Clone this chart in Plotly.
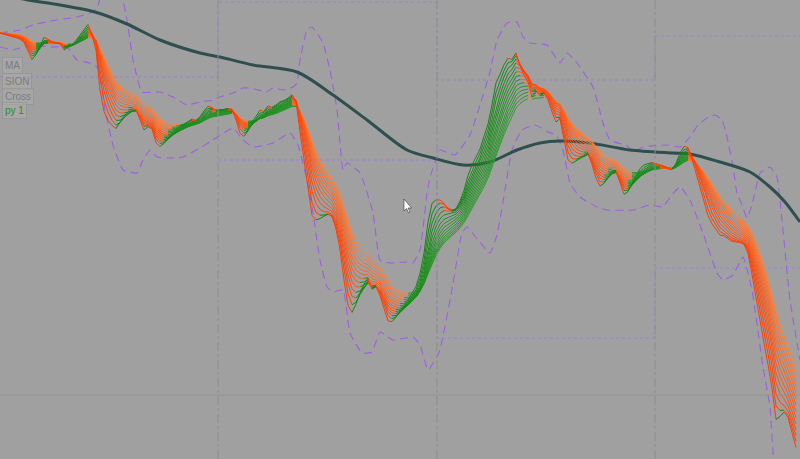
import numpy as np
import pandas as pd
import plotly.graph_objects as go

# ---- data ----
close = [
    1.1967, 1.1965, 1.1964, 1.1963, 1.1962, 1.1960, 1.1956, 1.1945, 1.1936, 1.1948,
    1.1958, 1.1967, 1.1960, 1.1957, 1.1956, 1.1956, 1.1947, 1.1954, 1.1956, 1.1962,
    1.1968, 1.1973, 1.1978, 1.1960, 1.1942, 1.1890, 1.1878, 1.1875, 1.1872, 1.1870,
    1.1880, 1.1887, 1.1890, 1.1893, 1.1890, 1.1875, 1.1865, 1.1875, 1.1870, 1.1850,
    1.1852, 1.1858, 1.1864, 1.1870, 1.1873, 1.1875, 1.1878, 1.1880, 1.1882, 1.1879,
    1.1885, 1.1892, 1.1896, 1.1892, 1.1888, 1.1890, 1.1891, 1.1892, 1.1890, 1.1875,
    1.1860, 1.1862, 1.1872, 1.1882, 1.1886, 1.1893, 1.1888, 1.1897, 1.1892, 1.1896,
    1.1900, 1.1900, 1.1903, 1.1907, 1.1895, 1.1853, 1.1825, 1.1795, 1.1772, 1.1778,
    1.1782, 1.1785, 1.1787, 1.1782, 1.1765, 1.1740, 1.1705, 1.1682, 1.1684, 1.1700,
    1.1713, 1.1720, 1.1725, 1.1705, 1.1715, 1.1700, 1.1685, 1.1673, 1.1678, 1.1685,
    1.1692, 1.1697, 1.1703, 1.1710, 1.1717, 1.1733, 1.1757, 1.1793, 1.1806, 1.1802,
    1.1800, 1.1795, 1.1788, 1.1788, 1.1792, 1.1803, 1.1815, 1.1832, 1.1840, 1.1847,
    1.1855, 1.1870, 1.1882, 1.1905, 1.1928, 1.1930, 1.1940, 1.1945, 1.1940, 1.1950,
    1.1928, 1.1920, 1.1915, 1.1895, 1.1912, 1.1902, 1.1908, 1.1897, 1.1882, 1.1873,
    1.1883, 1.1850, 1.1830, 1.1835, 1.1840, 1.1843, 1.1845, 1.1848, 1.1830, 1.1815,
    1.1810, 1.1818, 1.1825, 1.1832, 1.1830, 1.1810, 1.1800, 1.1810, 1.1820, 1.1828,
    1.1835, 1.1837, 1.1837, 1.1838, 1.1836, 1.1834, 1.1832, 1.1830, 1.1830, 1.1840,
    1.1852, 1.1857, 1.1852, 1.1835, 1.1820, 1.1805, 1.1790, 1.1778, 1.1772, 1.1768,
    1.1762, 1.1764, 1.1760, 1.1757, 1.1758, 1.1757, 1.1755, 1.1742, 1.1715, 1.1690,
    1.1670, 1.1645, 1.1625, 1.1600, 1.1565, 1.1585, 1.1590, 1.1580, 1.1560, 1.1545,
]

ema_periods = [2, 3, 4, 5, 6, 7, 8, 9, 10, 11, 12, 13, 14, 15]

# envelope bands (read as sparse points)
upper_bar = [0, 5, 8.25, 12.5, 19.25, 22.5, 24.25, 25.5, 28, 30.25, 31.75, 33.25, 35.5,
             40, 43.25, 46.75, 50, 53.25, 55, 58.25, 60.75, 62.5, 66.75, 68.25, 70.75,
             73.25, 74.25, 75, 76.75, 78, 80.75, 82.5, 84.25, 85, 85.75, 86.75, 90,
             93.25, 95, 97.5, 101.75, 103.25, 105, 106.75, 107.5, 109.25, 110, 113.75,
             117.5, 120, 122.5, 124.25, 126.75, 129.25, 130.75, 132.5, 136.75, 140,
             141.75, 144.25, 148.25, 150.75, 152.5, 156.75, 158.25, 160.75, 166.75, 170,
             172.5, 174.5, 176.75, 178.75, 180.5, 181.75, 183.25, 184.25, 185.5, 186.75,
             188, 190, 192.5, 194.25, 195, 197.5, 200]
upper_val = [1.1967, 1.1970, 1.1975, 1.1979, 1.1983, 1.1987, 1.1992, 1.2008, 1.2025,
             1.2008, 1.1980, 1.1940, 1.1908, 1.1908, 1.1903, 1.1895, 1.1898, 1.1900,
             1.1903, 1.1907, 1.1912, 1.1912, 1.1908, 1.1912, 1.1910, 1.1913, 1.1917,
             1.1940, 1.1970, 1.1973, 1.1957, 1.1930, 1.1890, 1.1857, 1.1830, 1.1837,
             1.1827, 1.1787, 1.1740, 1.1737, 1.1738, 1.1737, 1.1750, 1.1807, 1.1823,
             1.1843, 1.1850, 1.1845, 1.1865, 1.1895, 1.1928, 1.1960, 1.1977, 1.1978,
             1.1963, 1.1957, 1.1955, 1.1937, 1.1947, 1.1937, 1.1913, 1.1877, 1.1860,
             1.1854, 1.1848, 1.1853, 1.1855, 1.1853, 1.1863, 1.1875, 1.1882, 1.1885,
             1.1880, 1.1863, 1.1833, 1.1807, 1.1795, 1.1782, 1.1795, 1.1827, 1.1833,
             1.1823, 1.1800, 1.1700, 1.1640]
lower_bar = [0, 3.25, 5, 8.25, 12.5, 16.75, 19.25, 22.5, 24.5, 26.25, 28.25, 30.75,
             34.25, 35.75, 37.5, 39.25, 41.75, 45.75, 50, 53.25, 58.25, 60.75, 63.25,
             68.25, 72.5, 74.5, 76.75, 78.25, 80, 81.75, 83.25, 85.75, 87.5, 90.5, 93,
             95, 98.25, 103.25, 105, 107, 109.25, 110, 113, 115.5, 116.75, 119.5, 122.5,
             124.25, 126.25, 128, 130.5, 133.75, 137, 139, 140.75, 142.5, 145, 149.25,
             151.75, 158.25, 162.5, 165.75, 167.5, 170, 172.5, 175.75, 179.25, 180.75,
             183.25, 185.75, 188, 190.75, 192.5, 193.75, 200]
lower_val = [1.1953, 1.1950, 1.1952, 1.1955, 1.1953, 1.1953, 1.1940, 1.1937, 1.1932,
             1.1890, 1.1855, 1.1830, 1.1827, 1.1840, 1.1850, 1.1843, 1.1842, 1.1843,
             1.1852, 1.1860, 1.1872, 1.1860, 1.1853, 1.1857, 1.1867, 1.1855, 1.1820,
             1.1787, 1.1740, 1.1713, 1.1708, 1.1710, 1.1667, 1.1647, 1.1648, 1.1668,
             1.1660, 1.1663, 1.1655, 1.1630, 1.1643, 1.1650, 1.1710, 1.1767, 1.1773,
             1.1760, 1.1747, 1.1765, 1.1810, 1.1850, 1.1870, 1.1875, 1.1868, 1.1865,
             1.1850, 1.1817, 1.1803, 1.1793, 1.1790, 1.1790, 1.1795, 1.1793, 1.1803,
             1.1813, 1.1800, 1.1767, 1.1727, 1.1720, 1.1725, 1.1743, 1.1710, 1.1633,
             1.1593, 1.1530, 1.1480]

# long moving average (read as sparse points)
long_ma_bar = [0, 7, 15, 23.75, 31.75, 40, 50, 55, 63.25, 74.25, 83.25, 91.75, 101.75,
               108.25, 115.75, 122.5, 129.25, 135, 140, 147.5, 157.5, 168.25, 172.5,
               180, 187.5, 192.5, 196.25, 200]
long_ma_val = [1.2006, 1.2000, 1.1995, 1.1988, 1.1976, 1.1960, 1.1947, 1.1943, 1.1935,
               1.1928, 1.1905, 1.1880, 1.1850, 1.1842, 1.1835, 1.1838, 1.1850, 1.1857,
               1.1859, 1.1857, 1.1850, 1.1847, 1.1846, 1.1838, 1.1828, 1.1813, 1.1798,
               1.1778]

# daily separators and prior-day levels
day_bounds = [0, 54.5, 109.25, 163.75, 200]
upper_levels = [1.1923, 1.1998, 1.1920, 1.1964]
lower_levels = [None, 1.1840, 1.1662, 1.1732]
grid_levels = [1.1605]

legend_labels = ["MA", "SION", "Cross", "py 1"]
legend_colors = ["#7c7c7c", "#7c7c7c", "#7c7c7c", "#1f8f2f"]

# ---- figure ----
BG = "#a0a0a0"
n = len(close)
bars = np.arange(n)
s = pd.Series(close)

fig = go.Figure()

for g in grid_levels:
    fig.add_shape(type="line", x0=0, x1=1, xref="paper", y0=g, y1=g, yref="y",
                  line=dict(color="rgba(140,140,140,0.6)", width=1))

for b in day_bounds[1:-1]:
    fig.add_shape(type="line", x0=b, x1=b, xref="x", y0=0, y1=1, yref="paper",
                  line=dict(color="#8c8c8c", width=1, dash="dashdot"))

def step_path(levels):
    xs, ys = [], []
    for i, lv in enumerate(levels):
        if lv is None:
            xs.append(None); ys.append(None)
            continue
        xs += [day_bounds[i], day_bounds[i + 1]]
        ys += [lv, lv]
    return xs, ys

for lv in (upper_levels, lower_levels):
    xs, ys = step_path(lv)
    fig.add_trace(go.Scatter(x=xs, y=ys, mode="lines", connectgaps=False,
                             line=dict(color="rgba(150,125,215,0.85)", width=1, dash="dot"),
                             hoverinfo="skip"))

for bx, bv in ((upper_bar, upper_val), (lower_bar, lower_val)):
    fig.add_trace(go.Scatter(x=bx, y=bv, mode="lines",
                             line=dict(color="rgb(155,95,225)", width=1.1, dash="8px,5px",
                                       shape="spline", smoothing=0.4),
                             hoverinfo="skip"))

fig.add_trace(go.Scatter(x=long_ma_bar, y=long_ma_val, mode="lines",
                         line=dict(color="#2f4f4f", width=3, shape="spline", smoothing=0.8),
                         hoverinfo="skip"))

def runs(vals, rising):
    xs, ys = [], []
    d = np.diff(vals)
    mask = d >= 0 if rising else d < 0
    i = 0
    while i < len(mask):
        if mask[i]:
            j = i
            while j < len(mask) and mask[j]:
                j += 1
            xs += list(bars[i:j + 1]) + [None]
            ys += list(vals[i:j + 1]) + [None]
            i = j
        else:
            i += 1
    return xs, ys

m = len(ema_periods)
for k in reversed(range(m)):
    p = ema_periods[k]
    e = s.ewm(span=p, adjust=False).mean().values
    t = k / (m - 1)
    orange = "rgb(255,%d,%d)" % (int(60 + 70 * t), int(0 + 60 * t))
    green = "rgb(%d,%d,%d)" % (int(20 + 30 * t), int(135 + 20 * t), int(20 + 30 * t))
    gx, gy = runs(e, True)
    ox, oy = runs(e, False)
    fig.add_trace(go.Scatter(x=ox, y=oy, mode="lines", connectgaps=False,
                             line=dict(color=orange, width=1), hoverinfo="skip"))
    fig.add_trace(go.Scatter(x=gx, y=gy, mode="lines", connectgaps=False,
                             line=dict(color=green, width=1), hoverinfo="skip"))

label_y = [65, 81, 96, 110]
for txt, col, yp in zip(legend_labels, legend_colors, label_y):
    fig.add_annotation(x=0.002, xref="paper", y=1 - yp / 459, yref="paper",
                       text=txt, showarrow=False, xanchor="left", yanchor="middle",
                       font=dict(family="Arial, Liberation Sans", size=10, color=col),
                       bgcolor="rgba(175,175,175,0.45)", bordercolor="rgba(140,140,140,0.5)",
                       borderwidth=1, borderpad=2)

def px(xp, yp):
    return "%.4f %.4f" % (xp / 800, 1 - yp / 459)
pts = [(404, 199), (404, 211), (406.5, 208.5), (408.5, 212.5), (410, 211.8),
       (408, 208), (411.5, 208)]
path = "M " + " L ".join(px(a, b) for a, b in pts) + " Z"
fig.add_shape(type="path", path=path, xref="paper", yref="paper",
              fillcolor="white", line=dict(color="#333", width=0.6))

fig.update_layout(
    width=800, height=459, margin=dict(l=0, r=0, t=0, b=0),
    paper_bgcolor=BG, plot_bgcolor=BG, showlegend=False,
    xaxis=dict(visible=False, range=[0, 200], fixedrange=True),
    yaxis=dict(visible=False, range=[1.1541, 1.2000], fixedrange=True),
)

fig.write_html("out.html", config={"displayModeBar": False},
               post_script="document.body.style.margin='0px';")
